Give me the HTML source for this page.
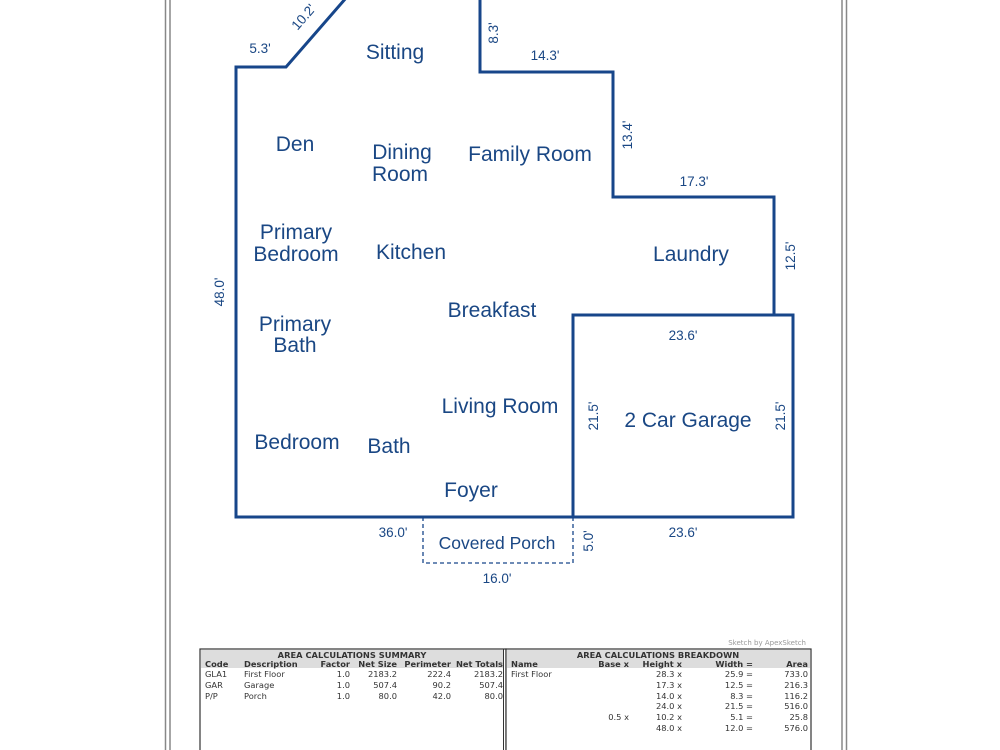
<!DOCTYPE html>
<html><head><style>
body{margin:0;background:#fff;width:1000px;height:750px;overflow:hidden;font-family:"Liberation Sans",sans-serif}
svg{position:absolute;left:0;top:0}
.r{fill:#1a4784;font-size:21px;font-family:"Liberation Sans",sans-serif}
.d{fill:#1a4784;font-size:13.5px;font-family:"Liberation Sans",sans-serif}
.t{font-family:"DejaVu Sans",sans-serif;font-size:8.3px;fill:#333;white-space:pre}
.b{font-weight:bold}
</style></head><body>
<svg width="1000" height="750" viewBox="0 0 1000 750">
<line x1="165.5" y1="0" x2="165.5" y2="750" stroke="#888" stroke-width="1.5"/>
<line x1="170" y1="0" x2="170" y2="750" stroke="#888" stroke-width="1.5"/>
<line x1="842" y1="0" x2="842" y2="750" stroke="#888" stroke-width="1.5"/>
<line x1="846.5" y1="0" x2="846.5" y2="750" stroke="#888" stroke-width="1.5"/>
<g fill="none" stroke="#17468a" stroke-width="3">
<polyline points="346,-2 286,67 236,67 236,517 793,517 793,315 774,315 774,197 613,197 613,72 480,72 480,-2"/>
<rect x="573" y="315" width="220" height="202"/>
</g>
<polyline points="423,517 423,563 573,563 573,517" fill="none" stroke="#17468a" stroke-width="1.3" stroke-dasharray="4,3"/>
<g class="r" text-anchor="middle">
<text x="395" y="59">Sitting</text>
<text x="295" y="151">Den</text>
<text x="402" y="159">Dining</text><text x="400" y="181">Room</text>
<text x="530" y="161">Family Room</text>
<text x="296" y="239">Primary</text><text x="296" y="261">Bedroom</text>
<text x="411" y="259">Kitchen</text>
<text x="691" y="261">Laundry</text>
<text x="492" y="317">Breakfast</text>
<text x="295" y="331">Primary</text><text x="295" y="352">Bath</text>
<text x="500" y="413">Living Room</text>
<text x="688" y="427">2 Car Garage</text>
<text x="297" y="449">Bedroom</text>
<text x="389" y="453">Bath</text>
<text x="471" y="497">Foyer</text>
</g>
<text class="r" x="497" y="549" text-anchor="middle" style="font-size:17.5px">Covered Porch</text>
<g class="d" text-anchor="middle">
<text x="260" y="53">5.3'</text>
<text x="545" y="60">14.3'</text>
<text x="694" y="186">17.3'</text>
<text x="683" y="340">23.6'</text>
<text x="393" y="537">36.0'</text>
<text x="683" y="537">23.6'</text>
<text x="497" y="583">16.0'</text>
<text transform="translate(307,20) rotate(-49)">10.2'</text>
<text transform="translate(498,33) rotate(-90)">8.3'</text>
<text transform="translate(632,135) rotate(-90)">13.4'</text>
<text transform="translate(795,256) rotate(-90)">12.5'</text>
<text transform="translate(224,292) rotate(-90)">48.0'</text>
<text transform="translate(598,416) rotate(-90)">21.5'</text>
<text transform="translate(785,416) rotate(-90)">21.5'</text>
<text transform="translate(593,541) rotate(-90)">5.0'</text>
</g>
<text x="806" y="645" text-anchor="end" style="font-family:'DejaVu Sans',sans-serif;font-size:7px;fill:#999">Sketch by ApexSketch</text>
<rect x="200" y="649" width="306" height="105" fill="#fff" stroke="#333" stroke-width="1.2"/>
<rect x="506" y="649" width="305" height="105" fill="#fff" stroke="#333" stroke-width="1.2"/>
<line x1="503.5" y1="649" x2="503.5" y2="750" stroke="#333"/>
<rect x="201" y="650" width="302" height="18" fill="#ddd"/>
<rect x="507" y="650" width="303" height="18" fill="#ddd"/>
<g class="t b" text-anchor="middle"><text x="352" y="658">AREA CALCULATIONS SUMMARY</text><text x="658" y="658">AREA CALCULATIONS BREAKDOWN</text></g>
<g class="t b">
<text x="205" y="667">Code</text><text x="244" y="667">Description</text>
<text x="350" y="667" text-anchor="end">Factor</text><text x="397" y="667" text-anchor="end">Net Size</text>
<text x="451" y="667" text-anchor="end">Perimeter</text><text x="503" y="667" text-anchor="end">Net Totals</text>
<text x="511" y="667">Name</text><text x="629" y="667" text-anchor="end">Base  x</text>
<text x="682" y="667" text-anchor="end">Height  x</text><text x="753" y="667" text-anchor="end">Width  =</text>
<text x="808" y="667" text-anchor="end">Area</text>
</g>
<g class="t">
<text x="205" y="677">GLA1</text><text x="244" y="677">First Floor</text><text x="350" y="677" text-anchor="end">1.0</text><text x="397" y="677" text-anchor="end">2183.2</text><text x="451" y="677" text-anchor="end">222.4</text><text x="503" y="677" text-anchor="end">2183.2</text>
<text x="205" y="688">GAR</text><text x="244" y="688">Garage</text><text x="350" y="688" text-anchor="end">1.0</text><text x="397" y="688" text-anchor="end">507.4</text><text x="451" y="688" text-anchor="end">90.2</text><text x="503" y="688" text-anchor="end">507.4</text>
<text x="205" y="699">P/P</text><text x="244" y="699">Porch</text><text x="350" y="699" text-anchor="end">1.0</text><text x="397" y="699" text-anchor="end">80.0</text><text x="451" y="699" text-anchor="end">42.0</text><text x="503" y="699" text-anchor="end">80.0</text>
<text x="511" y="677">First Floor</text>
</g>
<g class="t" text-anchor="end">
<text x="682" y="677">28.3  x</text><text x="753" y="677">25.9  =</text><text x="808" y="677">733.0</text>
<text x="682" y="688">17.3  x</text><text x="753" y="688">12.5  =</text><text x="808" y="688">216.3</text>
<text x="682" y="699">14.0  x</text><text x="753" y="699">8.3  =</text><text x="808" y="699">116.2</text>
<text x="682" y="709">24.0  x</text><text x="753" y="709">21.5  =</text><text x="808" y="709">516.0</text>
<text x="629" y="720">0.5  x</text><text x="682" y="720">10.2  x</text><text x="753" y="720">5.1  =</text><text x="808" y="720">25.8</text>
<text x="682" y="731">48.0  x</text><text x="753" y="731">12.0  =</text><text x="808" y="731">576.0</text>
</g>
</svg>
</body></html>
